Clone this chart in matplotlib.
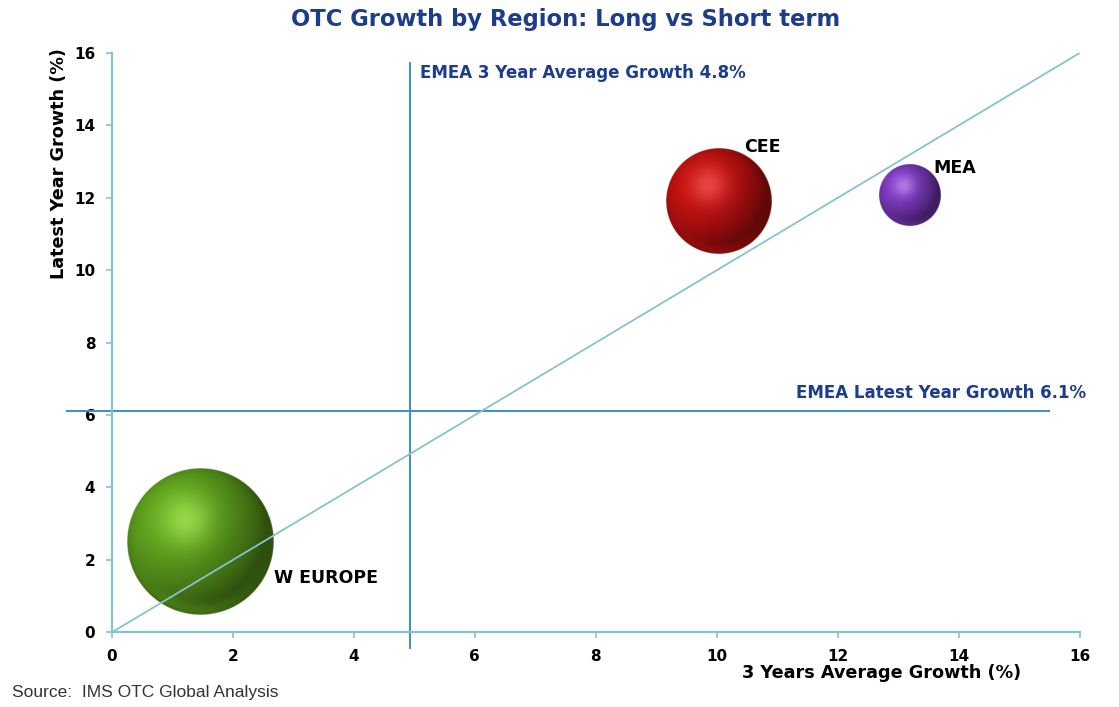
import numpy as np
import matplotlib
matplotlib.use("Agg")
import matplotlib.pyplot as plt
from matplotlib.colors import to_rgb

# data
regions = ["W EUROPE", "CEE", "MEA"]
avg_growth_3yr = [1.45, 10.03, 13.19]      # x, %
latest_growth = [2.48, 11.92, 12.07]       # y, %
bubble_size = [57, 30, 10]                 # relative market size
base_colors = ["#5c9e1c", "#bf1010", "#7b38bd"]
light_colors = ["#aaee5c", "#f85a5a", "#c890f5"]
label_dx = [1.23, 0.42, 0.40]              # label offsets (data units)
label_dy = [-0.98, 1.49, 0.76]

emea_3yr = 4.93
emea_latest = 6.1

navy = "#1c3c8c"
teal = "#86c3cf"
blue = "#3a8ecb"


def sphere_rgba(color, hi, n=400):
    u = np.linspace(-1, 1, n)
    X, Y = np.meshgrid(u, -u)
    r = np.sqrt(X**2 + Y**2)
    Z = np.sqrt(np.clip(1 - r**2, 0, 1))
    L = np.array([-0.45, 0.4, 0.8])
    L = L / np.linalg.norm(L)
    diff = np.clip(X * L[0] + Y * L[1] + Z * L[2], 0, 1)
    spot = np.exp(-(((X + 0.2) ** 2 + (Y - 0.3) ** 2) / 0.12))
    rim = np.exp(-((r - 0.93) / 0.1) ** 2) * np.clip(-Y, 0, 1) * np.clip(1 - X, 0, 1)
    base = np.array(to_rgb(color))
    light = np.array(to_rgb(hi))
    rgb = base * (0.5 + 0.55 * diff)[..., None]
    rgb = rgb + (light - rgb) * (0.7 * spot)[..., None]
    rgb = rgb + (base - rgb) * (0.5 * rim)[..., None]
    rgb = np.clip(rgb, 0, 1)
    alpha = np.clip((1 - r) * n / 2.0, 0, 1)
    return np.dstack([rgb, alpha])


fig = plt.figure(figsize=(11.19, 7.07), dpi=100)
ax = fig.add_axes([0.1001, 0.1057, 0.8647, 0.8193])
ax.set_xlim(0, 16)
ax.set_ylim(0, 16)

bbox = ax.get_window_extent()
px_x = bbox.width / 16.0
px_y = bbox.height / 16.0

# reference lines
ax.plot([emea_3yr, emea_3yr], [-0.44, 15.73], color=blue, lw=1.4, clip_on=False, zorder=2)
ax.plot([-0.74, 15.5], [emea_latest, emea_latest], color=blue, lw=1.4, clip_on=False, zorder=2)
ax.plot([0, 16], [0, 16], color=teal, lw=1.3, zorder=5)

# bubbles
for i, name in enumerate(regions):
    d = 19.34 * np.sqrt(bubble_size[i])
    w = d / px_x / 2
    h = d / px_y / 2
    x, y = avg_growth_3yr[i], latest_growth[i]
    ax.imshow(sphere_rgba(base_colors[i], light_colors[i]),
              extent=[x - w, x + w, y - h, y + h], aspect="auto",
              interpolation="bilinear", zorder=4 if i == 0 else 6)
    ax.text(x + label_dx[i], y + label_dy[i], name, fontsize=12.5, fontweight="bold",
            color="black", ha="left", va="center", zorder=7)

ax.set_xlim(0, 16)
ax.set_ylim(0, 16)

ax.text(5.1, 15.45, "EMEA 3 Year Average Growth 4.8%", fontsize=12, fontweight="bold",
        color=navy, ha="left", va="center")
ax.text(16.1, 6.62, "EMEA Latest Year Growth 6.1%", fontsize=12, fontweight="bold",
        color=navy, ha="right", va="center", clip_on=False)

ticks = np.arange(0, 17, 2)
ax.set_xticks(ticks)
ax.set_yticks(ticks)
ax.set_xticklabels([str(t) for t in ticks], fontsize=11, fontweight="bold")
ax.set_yticklabels([str(t) for t in ticks], fontsize=11, fontweight="bold")
ax.tick_params(axis="both", direction="out", length=4, width=1.2, color=teal, pad=8)
for s in ["top", "right"]:
    ax.spines[s].set_visible(False)
for s in ["left", "bottom"]:
    ax.spines[s].set_color(teal)
    ax.spines[s].set_linewidth(1.6)

fig.text(0.505, 0.972, "OTC Growth by Region: Long vs Short term", fontsize=16.3,
         fontweight="bold", color=navy, ha="center", va="center")
fig.text(0.0527, 0.7687, "Latest Year Growth (%)", fontsize=12.7, fontweight="bold",
         rotation=90, ha="center", va="center")
fig.text(0.788, 0.048, "3 Years Average Growth (%)", fontsize=12.7, fontweight="bold",
         ha="center", va="center")
fig.text(0.0107, 0.021, "Source:  IMS OTC Global Analysis", fontsize=12.5,
         family="Liberation Sans", color="#333333", ha="left", va="center")

fig.savefig("out.png", dpi=100)
